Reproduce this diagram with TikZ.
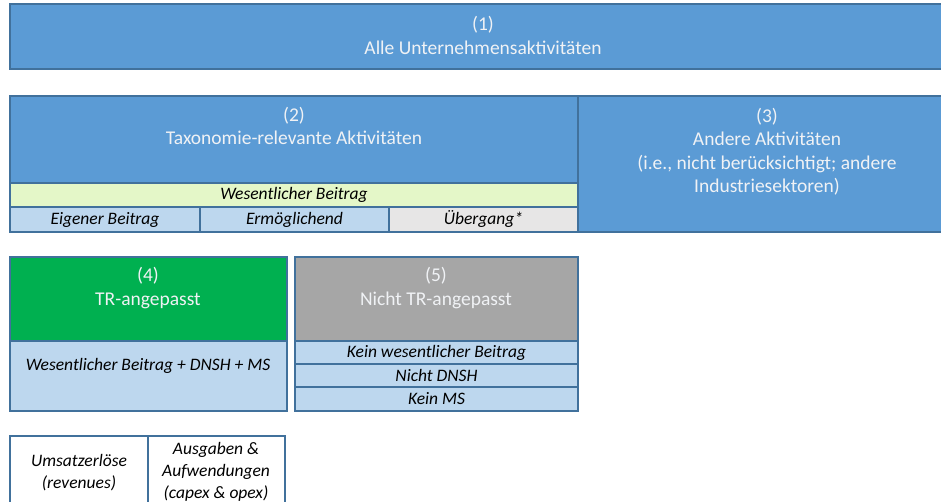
\documentclass[tikz,border=0pt]{standalone}
\usepackage{fontspec}
\setmainfont{Carlito}
\usetikzlibrary{positioning}

\definecolor{blueA}{RGB}{91,155,213}
\definecolor{bordc}{RGB}{65,113,156}
\definecolor{paleGreen}{RGB}{228,247,200}
\definecolor{paleBlue}{RGB}{189,215,238}
\definecolor{paleGray}{RGB}{231,230,230}
\definecolor{alignGreen}{RGB}{0,176,80}
\definecolor{midGray}{RGB}{166,166,166}
\definecolor{txtw}{RGB}{240,242,245}

\tikzset{
  box/.style={draw=bordc, line width=1.3pt, inner sep=0pt, outer sep=0pt, anchor=north west},
  head/.style={font=\fontsize{19.5}{23.5}\selectfont, align=center, text=txtw, inner sep=0pt},
  cell/.style={font=\itshape\fontsize{17.5}{22}\selectfont, align=center, text=black, inner sep=0pt}
}

\begin{document}
\begin{tikzpicture}[x=1pt,y=-1pt]
\useasboundingbox (0,0) rectangle (941,502);
\clip (0,0) rectangle (941,502);

% (1) all activities
\node[box, fill=blueA, minimum width=946pt, minimum height=65pt] (alle) at (10,4) {};
\node[head] (alleT) at (483,35.5) {(1)\\Alle Unternehmensaktivitäten};

% (2) taxonomy relevant
\node[box, fill=blueA, minimum width=568pt, minimum height=87pt] (relev) at (10,96) {};
\node[head] (relevT) at (294,126) {(2)\\Taxonomie-relevante Aktivitäten};
\node[box, fill=paleGreen, minimum width=568pt, minimum height=24pt] (wesent) at (10,183) {};
\node[cell] (wesentT) at (wesent.center) {Wesentlicher Beitrag};
\node[box, fill=paleBlue, minimum width=190pt, minimum height=25pt] (eigen) at (10,207) {};
\node[cell] (eigenT) at (eigen.center) {Eigener Beitrag};
\node[box, fill=paleBlue, minimum width=189pt, minimum height=25pt] (ermoeg) at (200,207) {};
\node[cell] (ermoegT) at (ermoeg.center) {Ermöglichend};
\node[box, fill=paleGray, minimum width=189pt, minimum height=25pt] (uebg) at (389,207) {};
\node[cell] (uebgT) at (uebg.center) {Übergang*};

% (3) other activities
\node[box, fill=blueA, minimum width=378pt, minimum height=136pt] (andere) at (578,96) {};
\node[head] (andereT) at (767,151.5) {(3)\\Andere Aktivitäten\\(i.e., nicht berücksichtigt; andere\\Industriesektoren)};

% (4) aligned
\node[box, fill=alignGreen, minimum width=277pt, minimum height=84pt] (angep) at (10,257) {};
\node[head] (angepT) at (148,288) {(4)\\TR-angepasst};
\node[box, fill=paleBlue, minimum width=277pt, minimum height=70pt] (krit) at (10,341) {};
\node[cell] (kritT) at (148,366) {Wesentlicher Beitrag + DNSH + MS};

% (5) not aligned
\node[box, fill=midGray, minimum width=283pt, minimum height=84pt] (nicht) at (295,257) {};
\node[head] (nichtT) at (436,288) {(5)\\Nicht TR-angepasst};
\node[box, fill=paleBlue, minimum width=283pt, minimum height=23pt] (keinW) at (295,341) {};
\node[cell] (keinWT) at (keinW.center) {Kein wesentlicher Beitrag};
\node[box, fill=paleBlue, minimum width=283pt, minimum height=23pt] (dnsh) at (295,364) {};
\node[cell] (dnshT) at (dnsh.center) {Nicht DNSH};
\node[box, fill=paleBlue, minimum width=283pt, minimum height=24pt] (keinMS) at (295,387) {};
\node[cell] (keinMST) at (keinMS.center) {Kein MS};

% key figures
\node[box, fill=white, minimum width=138pt, minimum height=80pt] (umsatz) at (10,436) {};
\node[cell] (umsatzT) at (79,473) {Umsatzerlöse\\(revenues)};
\node[box, fill=white, minimum width=137pt, minimum height=80pt] (ausg) at (148,436) {};
\node[cell] (ausgT) at (216,472) {Ausgaben \&\\Aufwendungen\\(capex \& opex)};

\end{tikzpicture}
\end{document}
